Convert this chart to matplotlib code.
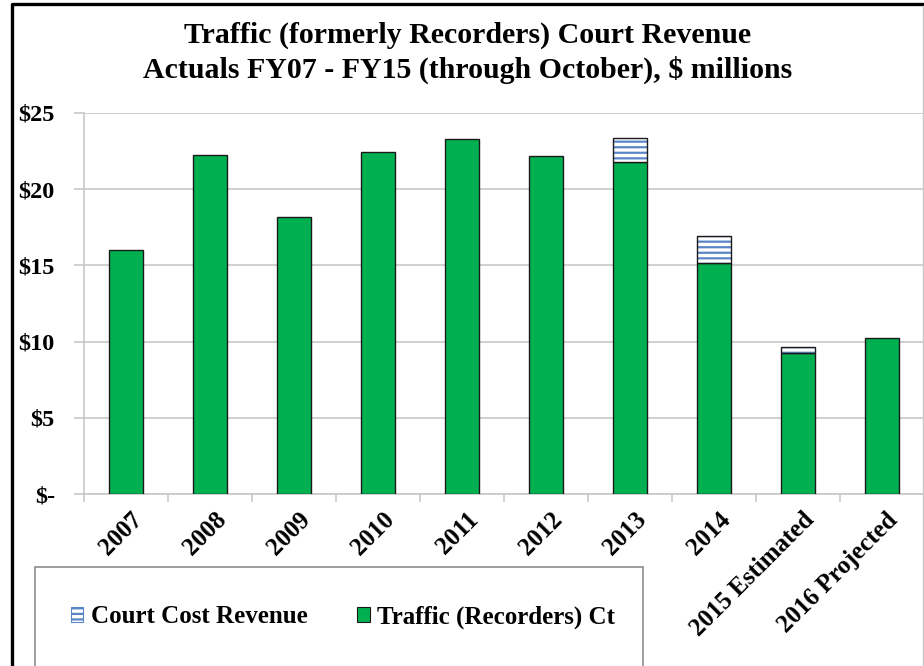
import numpy as np
import matplotlib
matplotlib.use("Agg")
import matplotlib.pyplot as plt
from matplotlib.patches import Patch, Rectangle
from matplotlib.lines import Line2D
from matplotlib.transforms import ScaledTranslation

years = ["2007", "2008", "2009", "2010", "2011", "2012", "2013", "2014",
         "2015 Estimated", "2016 Projected"]
traffic = [16.0, 22.24, 18.18, 22.43, 23.3, 22.15, 21.8, 15.13, 9.25, 10.24]
court_cost = [0, 0, 0, 0, 0, 0, 1.56, 1.78, 0.42, 0]
yticks = [0, 5, 10, 15, 20, 25]
ylabels = ["$-", "$5", "$10", "$15", "$20", "$25"]

green = "#00b050"
stripe = "#5a86c8"

plt.rcParams['font.family'] = ['Liberation Serif', 'DejaVu Serif']
plt.rcParams['font.weight'] = 'bold'
plt.rcParams['hatch.linewidth'] = 1.6

fig = plt.figure(figsize=(9.24, 6.66), dpi=100)
ax = fig.add_axes([84/924, 1-494/666, 840/924, 381/666])

x = np.arange(len(years))
w = 0.4
ax.bar(x, traffic, w, color=green, edgecolor="#1a1a1a", linewidth=1, zorder=3)
cc = np.array(court_cost)
m = cc > 0
ax.bar(x[m], cc[m], w, bottom=np.array(traffic)[m], color="white",
       edgecolor=stripe, hatch="---", linewidth=0, zorder=3)
ax.bar(x[m], cc[m], w, bottom=np.array(traffic)[m], fill=False,
       edgecolor="#1a1a1a", linewidth=1, zorder=4)

ax.set_xlim(-0.5, len(years) - 0.5)
ax.set_ylim(0, 25)
ax.set_yticks(yticks)
ax.set_yticklabels(ylabels, fontsize=17.5, fontweight='bold')
ax.yaxis.grid(True, color="#c8c8c8", linewidth=1.2, zorder=0)
ax.tick_params(axis='y', length=7, color="#c8c8c8", width=1.2, pad=14)

ax.set_xticks(np.arange(len(years) + 1) - 0.5, minor=False)
ax.set_xticklabels([])
ax.set_xticks(x, minor=True)
ax.set_xticklabels(years, minor=True, rotation=45, ha='right', va='center',
                   rotation_mode='anchor', fontsize=18, fontweight='bold')
ax.tick_params(axis='x', which='major', length=6, color="#c8c8c8", width=1.2)
ax.tick_params(axis='x', which='minor', length=0, pad=16)
off = ScaledTranslation(9/72, 0, fig.dpi_scale_trans)
for lab in ax.get_xticklabels(minor=True):
    lab.set_transform(lab.get_transform() + off)

for s in ['top', 'right']:
    ax.spines[s].set_visible(False)
for s in ['left', 'bottom']:
    ax.spines[s].set_color("#c8c8c8")
    ax.spines[s].set_linewidth(1.2)

fig.text(468/924, 1-35/666, "Traffic (formerly Recorders) Court Revenue",
         ha='center', va='center', fontsize=21.5, fontweight='bold')
fig.text(468/924, 1-70/666, "Actuals FY07 - FY15 (through October), $ millions",
         ha='center', va='center', fontsize=21.5, fontweight='bold')

# outer frame: black left and top, grey right
fig.add_artist(Line2D([12/924, 12/924, 1], [0, 1-4/666, 1-4/666],
                      transform=fig.transFigure, color="black", linewidth=2.4))
fig.add_artist(Line2D([923/924, 923/924], [0, 1-6/666],
                      transform=fig.transFigure, color="#c8c8c8", linewidth=1))
# legend box
fig.patches.append(Rectangle((35/924, -0.1), 608/924, 0.1 + 1 - 567/666,
                             transform=fig.transFigure, facecolor="white",
                             edgecolor="#8c8c8c", linewidth=1.2))

handles = [Patch(facecolor="white", edgecolor=stripe, hatch="---", linewidth=0.8),
           Patch(facecolor=green, edgecolor="#1a1a1a", linewidth=0.8)]
fig.legend(handles, ["Court Cost Revenue", "Traffic (Recorders) Ct"],
           loc='center', bbox_to_anchor=(343/924, 1-617/666), ncol=2,
           frameon=False, prop={'size': 18, 'weight': 'bold'},
           handlelength=0.5, handleheight=0.5, handletextpad=0.3,
           columnspacing=2.0)

fig.savefig("out.png", dpi=100)
